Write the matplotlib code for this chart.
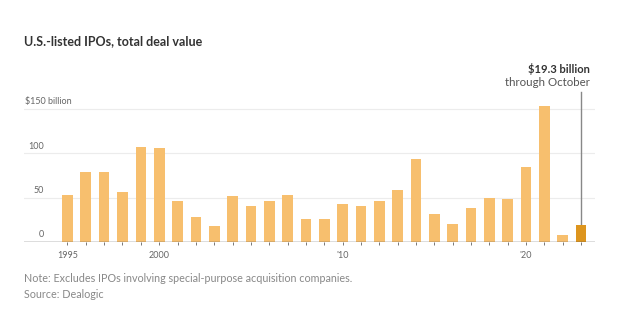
import matplotlib.pyplot as plt

# total deal value of U.S.-listed IPOs, $ billion (2023 through October)
years = list(range(1995, 2024))
values = [52.6, 78.6, 78.6, 56.8, 106.8, 105.6, 46.6, 27.8, 18.0, 51.9,
          40.6, 46.2, 52.6, 26.3, 26.3, 43.2, 40.2, 46.2, 59.0, 93.2,
          32.0, 20.7, 38.7, 49.6, 48.5, 84.6, 153.0, 8.3, 19.3]
tick_years = [1995, 2000, 2010, 2020]
tick_labels = ['1995', '2000', "'10", "'20"]
y_ticks = [0, 50, 100, 150]
y_labels = ['0', '50', '100', '$150 billion']

fig = plt.figure(figsize=(6.2, 3.26), dpi=100)
ax = fig.add_axes([0.0387, 0.2577, 0.921, 0.4623])

colors = ['#f7bf6e'] * (len(years) - 1) + ['#dd951e']
ax.bar(years, values, width=0.58, color=colors, zorder=2)

ax.set_xlim(1992.63, 2023.76)
ax.set_ylim(0, 170)

# gridlines and labels sitting above them
for yt, lab in zip(y_ticks, y_labels):
    if yt > 0:
        ax.axhline(yt, color='#ececec', lw=0.8, zorder=0)
    if lab.startswith('$'):
        ax.text(1992.7, yt + 3, lab, ha='left', va='bottom', fontsize=6.5,
                color='#666666', family='Lato')
    else:
        ax.text(1993.7, yt + 3, lab, ha='right', va='bottom', fontsize=6.5,
                color='#666666', family='Lato')

ax.axhline(0, color='#555555', lw=1.0, zorder=3)

ax.set_yticks([])
ax.set_xticks(years, minor=True)
ax.set_xticks(tick_years)
ax.set_xticklabels(tick_labels, fontsize=6.5, color='#666666', family='Lato')
ax.tick_params(axis='x', which='both', length=2.5, width=0.7, color='#777777',
               direction='out', pad=4)
for s in ax.spines.values():
    s.set_visible(False)

# callout for the latest year
ax.plot([years[-1], years[-1]], [values[-1], 169], color='#888888', lw=1.0,
        zorder=1, clip_on=False)
fig.text(590 / 620, 1 - 69 / 326, '$19.3 billion', ha='right', va='center',
         fontsize=8, fontweight='bold', color='#333333', family='Lato')
fig.text(590 / 620, 1 - 83 / 326, 'through October', ha='right', va='center',
         fontsize=8.3, color='#555555', family='Lato')

fig.text(24 / 620, 1 - 41 / 326, 'U.S.-listed IPOs, total deal value',
         ha='left', va='center', fontsize=9, fontweight='bold',
         color='#333333', family='Lato')
fig.text(24 / 620, 1 - 279 / 326,
         'Note: Excludes IPOs involving special-purpose acquisition companies.',
         ha='left', va='center', fontsize=7.75, color='#888888', family='Lato')
fig.text(24 / 620, 1 - 294 / 326, 'Source: Dealogic', ha='left', va='center',
         fontsize=7.75, color='#888888', family='Lato')

fig.savefig('out.png', dpi=100)
